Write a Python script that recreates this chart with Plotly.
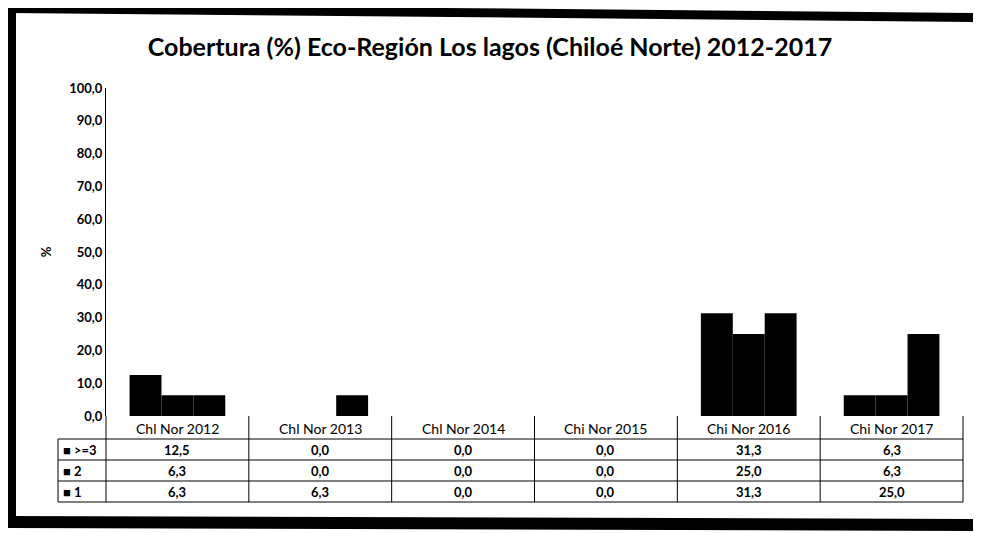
import plotly.graph_objects as go

# ---- data ----
categories = ["Chl Nor 2012", "Chl Nor 2013", "Chl Nor 2014", "Chi Nor 2015", "Chi Nor 2016", "Chi Nor 2017"]
series_names = [">=3", "2", "1"]
val_ge3 = [12.5, 0.0, 0.0, 0.0, 31.3, 6.3]
val_2 = [6.3, 0.0, 0.0, 0.0, 25.0, 6.3]
val_1 = [6.3, 6.3, 0.0, 0.0, 31.3, 25.0]
series_values = [val_ge3, val_2, val_1]
y_ticks = [0, 10, 20, 30, 40, 50, 60, 70, 80, 90, 100]

PAGE_W, PAGE_H = 981, 533
OFF = 8  # default page body margin
W, H = PAGE_W - OFF, PAGE_H - OFF
L, R, T, B = 106, 963, 88, 416  # plot area in page pixels


def px(x):
    return (x - L) / (R - L)


def py(y):
    return (B - y) / (B - T)


FONT = "Lato"

fig = go.Figure()
for name, vals in zip(series_names, series_values):
    fig.add_trace(go.Bar(x=categories, y=vals, name=name,
                         marker=dict(color="black", line=dict(width=0))))

shapes = []
# frame (scanned border)
shapes.append(dict(type="path", xref="paper", yref="paper",
                   path=f"M {px(8)},{py(4)} L {px(985)},{py(13)} L {px(985)},{py(22)} L {px(8)},{py(13)} Z",
                   fillcolor="black", line=dict(width=0)))
shapes.append(dict(type="rect", xref="paper", yref="paper",
                   x0=px(7), x1=px(16), y0=py(4), y1=py(526),
                   fillcolor="black", line=dict(width=0)))
shapes.append(dict(type="path", xref="paper", yref="paper",
                   path=f"M {px(7)},{py(516)} L {px(985)},{py(519)} L {px(985)},{py(531)} L {px(7)},{py(528)} Z",
                   fillcolor="black", line=dict(width=0)))
shapes.append(dict(type="line", xref="paper", yref="paper",
                   x0=px(979.5), x1=px(979.5), y0=py(290), y1=py(520),
                   line=dict(color="black", width=2)))

# data table grid
row_tops = [439, 460, 481]
table_bottom = 502
lw = dict(color="black", width=1)
for yv in row_tops + [table_bottom]:
    shapes.append(dict(type="line", xref="paper", yref="paper",
                       x0=px(58), x1=1, y0=py(yv), y1=py(yv), line=lw))
n = len(categories)
for i in range(n + 1):
    shapes.append(dict(type="line", xref="paper", yref="paper",
                       x0=i / n, x1=i / n, y0=py(B), y1=py(table_bottom), line=lw))
shapes.append(dict(type="line", xref="paper", yref="paper",
                   x0=px(58), x1=px(58), y0=py(row_tops[0]), y1=py(table_bottom), line=lw))

annotations = []
hfont = dict(family=FONT, size=14, color="black")
vfont = dict(family=FONT, size=13, color="black")
for c in categories:
    annotations.append(dict(x=c, xref="x", y=py(428), yref="paper", text=c,
                            showarrow=False, font=hfont, yanchor="middle"))
row_centers = [450, 471, 492]
for name, vals, yc in zip(series_names, series_values, row_centers):
    annotations.append(dict(x=px(61), xref="paper", y=py(yc), yref="paper",
                            text="<b>■ " + name + "</b>", showarrow=False, xanchor="left",
                            yanchor="middle", font=dict(family=FONT, size=13, color="black")))
    for c, v in zip(categories, vals):
        annotations.append(dict(x=c, xref="x", y=py(yc), yref="paper",
                                text="<b>" + f"{v:.1f}".replace(".", ",") + "</b>",
                                showarrow=False, yanchor="middle", font=vfont))

fig.update_layout(
    width=W, height=H,
    margin=dict(l=L - OFF, r=PAGE_W - R, t=T - OFF, b=PAGE_H - B, pad=0),
    paper_bgcolor="white", plot_bgcolor="white",
    separators=",.",
    barmode="group", bargap=0.33, bargroupgap=0,
    showlegend=False,
    title=dict(text="<b>Cobertura (%) Eco-Región Los lagos (Chiloé Norte) 2012-2017</b>",
               x=(490 - OFF) / W, xref="container", xanchor="center",
               y=1 - (47 - OFF) / H, yref="container", yanchor="middle",
               font=dict(family=FONT, size=25, color="black")),
    xaxis=dict(showticklabels=False, showline=False, showgrid=False, zeroline=False,
               ticks=""),
    yaxis=dict(range=[0, 100], tickvals=y_ticks, tickformat=".1f",
               showline=True, linecolor="black", linewidth=1,
               showgrid=False, zeroline=False, ticks="", ticklen=0,
               tickfont=dict(family=FONT, size=13, color="black", weight="bold"),
               title=dict(text="<b>%</b>", standoff=14,
                          font=dict(family=FONT, size=13, color="black"))),
    shapes=shapes,
    annotations=annotations,
)

fig.write_html("out.html")
